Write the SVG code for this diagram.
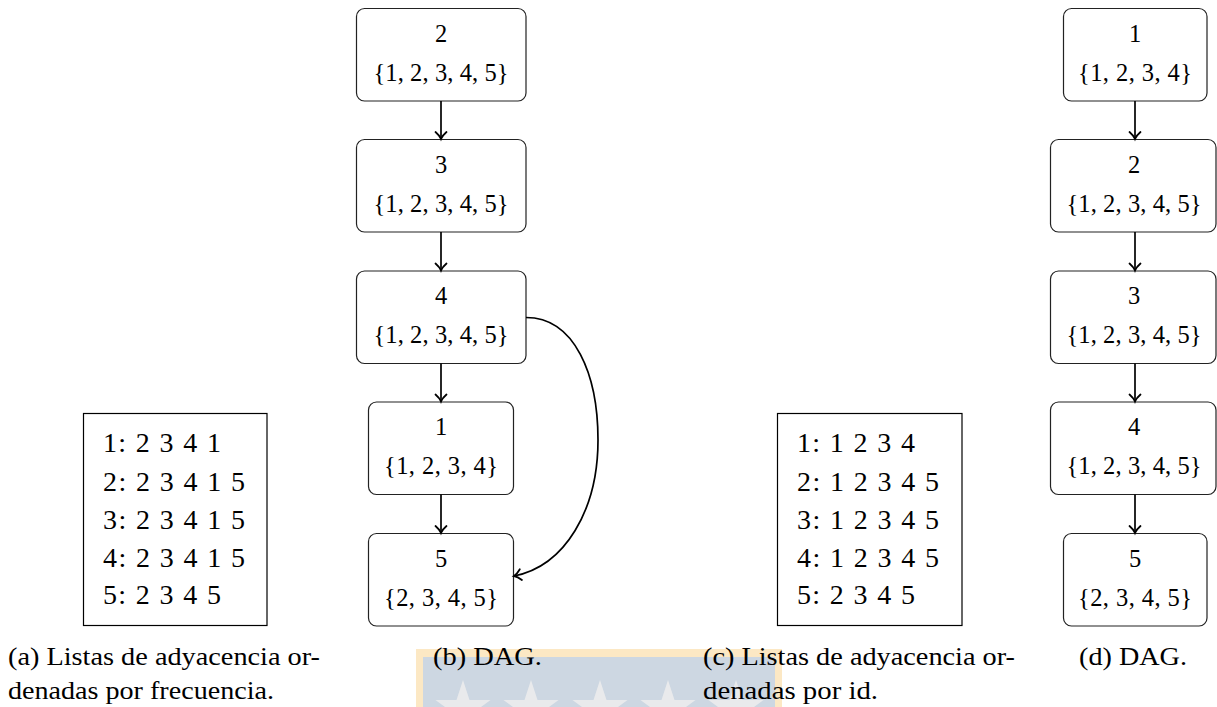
<svg xmlns="http://www.w3.org/2000/svg" width="1217" height="707" viewBox="0 0 1217 707" font-family="'Liberation Serif', 'DejaVu Serif', serif">
  <style>
    text { font-family: "Liberation Serif", "DejaVu Serif", serif; fill: #000; }
    .node rect { fill: #fff; stroke: #222; stroke-width: 1.2; }
    .lbl { font-size: 24.5px; text-anchor: middle; }
    .list rect { fill: #fff; stroke: #000; stroke-width: 1.2; }
    .row { font-size: 28px; }
    .cap { font-size: 25px; }
    .edge { fill: none; stroke: #000; stroke-width: 1.7; marker-end: url(#tip); }
    .seal-frame { fill: #fce8c4; }
    .seal-field { fill: #cdd7e2; }
    .seal-star { fill: #e9eaec; }
  </style>
  <defs>
    <marker id="tip" viewBox="-9 -7 11 14" refX="0" refY="0" markerWidth="11" markerHeight="14" markerUnits="userSpaceOnUse" orient="auto" overflow="visible">
      <path d="M-7,-5.5 C-4,-2 -1.5,-0.6 0,0 C-1.5,0.6 -4,2 -7,5.5" fill="none" stroke="#000" stroke-width="1.8" stroke-linecap="round"/>
    </marker>
    <path id="star" d="M0,-29 L6.51,-8.96 L27.58,-8.96 L10.54,3.42 L17.05,23.46 L0,11.08 L-17.05,23.46 L-10.54,3.42 L-27.58,-8.96 L-6.51,-8.96 Z"/>
  </defs>

  <!-- faint seal behind the captions -->
  <g id="seal">
    <rect class="seal-frame" x="416" y="649" width="366" height="70"/>
    <rect class="seal-field" x="423" y="657" width="352" height="62"/>
    <use href="#star" class="seal-star" x="463" y="709"/>
    <use href="#star" class="seal-star" x="531" y="709"/>
    <use href="#star" class="seal-star" x="600" y="709"/>
    <use href="#star" class="seal-star" x="668" y="709"/>
    <use href="#star" class="seal-star" x="736" y="709"/>
  </g>

  <!-- (a) adjacency lists sorted by frequency -->
  <g id="list-a" class="list">
    <rect x="83.5" y="413.5" width="183.5" height="212"/>
    <text class="row" x="103" y="452" textLength="118" lengthAdjust="spacing">1: 2 3 4 1</text>
    <text class="row" x="103" y="491" textLength="142" lengthAdjust="spacing">2: 2 3 4 1 5</text>
    <text class="row" x="103" y="529" textLength="142" lengthAdjust="spacing">3: 2 3 4 1 5</text>
    <text class="row" x="103" y="567" textLength="142" lengthAdjust="spacing">4: 2 3 4 1 5</text>
    <text class="row" x="103" y="604" textLength="118" lengthAdjust="spacing">5: 2 3 4 5</text>
  </g>

  <!-- (b) DAG -->
  <g id="b-n2" class="node">
    <rect x="356.5" y="8.5" width="169.5" height="92.5" rx="8"/>
    <text class="lbl" x="441" y="41.5">2</text>
    <text class="lbl" x="441" y="80.5" textLength="135" lengthAdjust="spacing">{1, 2, 3, 4, 5}</text>
  </g>
  <g id="b-n3" class="node">
    <rect x="356.5" y="139.5" width="169.5" height="92.5" rx="8"/>
    <text class="lbl" x="441" y="172.5">3</text>
    <text class="lbl" x="441" y="211.5" textLength="135" lengthAdjust="spacing">{1, 2, 3, 4, 5}</text>
  </g>
  <g id="b-n4" class="node">
    <rect x="356.5" y="271" width="169.5" height="92.5" rx="8"/>
    <text class="lbl" x="441" y="304">4</text>
    <text class="lbl" x="441" y="343" textLength="135" lengthAdjust="spacing">{1, 2, 3, 4, 5}</text>
  </g>
  <g id="b-n1" class="node">
    <rect x="368.5" y="402" width="145" height="92.5" rx="8"/>
    <text class="lbl" x="441" y="435">1</text>
    <text class="lbl" x="441" y="474" textLength="114" lengthAdjust="spacing">{1, 2, 3, 4}</text>
  </g>
  <g id="b-n5" class="node">
    <rect x="368.5" y="533.5" width="145" height="92.5" rx="8"/>
    <text class="lbl" x="441" y="566.5">5</text>
    <text class="lbl" x="441" y="605.5" textLength="114" lengthAdjust="spacing">{2, 3, 4, 5}</text>
  </g>

  <!-- (c) adjacency lists sorted by id -->
  <g id="list-c" class="list">
    <rect x="777.5" y="413.5" width="184.5" height="212"/>
    <text class="row" x="797" y="452" textLength="118" lengthAdjust="spacing">1: 1 2 3 4</text>
    <text class="row" x="797" y="491" textLength="142" lengthAdjust="spacing">2: 1 2 3 4 5</text>
    <text class="row" x="797" y="529" textLength="142" lengthAdjust="spacing">3: 1 2 3 4 5</text>
    <text class="row" x="797" y="567" textLength="142" lengthAdjust="spacing">4: 1 2 3 4 5</text>
    <text class="row" x="797" y="604" textLength="118" lengthAdjust="spacing">5: 2 3 4 5</text>
  </g>

  <!-- (d) DAG -->
  <g id="d-n1" class="node">
    <rect x="1063.5" y="8.5" width="143.5" height="92.5" rx="8"/>
    <text class="lbl" x="1135" y="41.5">1</text>
    <text class="lbl" x="1135" y="80.5" textLength="114" lengthAdjust="spacing">{1, 2, 3, 4}</text>
  </g>
  <g id="d-n2" class="node">
    <rect x="1050.5" y="139.5" width="165.5" height="92.5" rx="8"/>
    <text class="lbl" x="1134" y="172.5">2</text>
    <text class="lbl" x="1134" y="211.5" textLength="135" lengthAdjust="spacing">{1, 2, 3, 4, 5}</text>
  </g>
  <g id="d-n3" class="node">
    <rect x="1050.5" y="271" width="165.5" height="92.5" rx="8"/>
    <text class="lbl" x="1134" y="304">3</text>
    <text class="lbl" x="1134" y="343" textLength="135" lengthAdjust="spacing">{1, 2, 3, 4, 5}</text>
  </g>
  <g id="d-n4" class="node">
    <rect x="1050.5" y="402" width="165.5" height="92.5" rx="8"/>
    <text class="lbl" x="1134" y="435">4</text>
    <text class="lbl" x="1134" y="474" textLength="135" lengthAdjust="spacing">{1, 2, 3, 4, 5}</text>
  </g>
  <g id="d-n5" class="node">
    <rect x="1063.5" y="533.5" width="143.5" height="92.5" rx="8"/>
    <text class="lbl" x="1135" y="566.5">5</text>
    <text class="lbl" x="1135" y="605.5" textLength="114" lengthAdjust="spacing">{2, 3, 4, 5}</text>
  </g>

  <g id="connectors">
    <line class="edge" x1="441" y1="101" x2="441" y2="139"/>
    <line class="edge" x1="441" y1="232" x2="441" y2="270.5"/>
    <line class="edge" x1="441" y1="363.5" x2="441" y2="401.5"/>
    <line class="edge" x1="441" y1="494.5" x2="441" y2="533"/>
    <path class="edge" d="M526,317.5 C575,317.5 598,375 598,440 C598,510 565,566 514,576"/>
    <line class="edge" x1="1135" y1="101" x2="1135" y2="139"/>
    <line class="edge" x1="1135" y1="232" x2="1135" y2="270.5"/>
    <line class="edge" x1="1135" y1="363.5" x2="1135" y2="401.5"/>
    <line class="edge" x1="1135" y1="494.5" x2="1135" y2="533"/>
  </g>

  <!-- sub-captions -->
  <g id="captions">
    <text class="cap" x="8" y="665" textLength="312" lengthAdjust="spacingAndGlyphs">(a) Listas de adyacencia or-</text>
    <text class="cap" x="8" y="699" textLength="266" lengthAdjust="spacingAndGlyphs">denadas por frecuencia.</text>
    <text class="cap" x="433" y="665" textLength="109" lengthAdjust="spacingAndGlyphs">(b) DAG.</text>
    <text class="cap" x="703" y="665" textLength="312" lengthAdjust="spacingAndGlyphs">(c) Listas de adyacencia or-</text>
    <text class="cap" x="703" y="699" textLength="175" lengthAdjust="spacingAndGlyphs">denadas por id.</text>
    <text class="cap" x="1079" y="665" textLength="108" lengthAdjust="spacingAndGlyphs">(d) DAG.</text>
  </g>
</svg>
